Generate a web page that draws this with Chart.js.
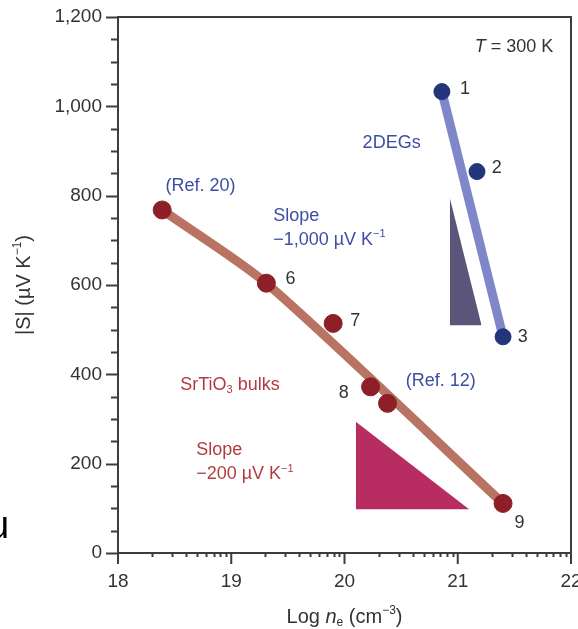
<!DOCTYPE html>
<html>
<head>
<meta charset="utf-8">
<script src="https://cdn.jsdelivr.net/npm/chart.js@4.4.1/dist/chart.umd.min.js"></script>
<style>
  html, body { margin: 0; padding: 0; background: #fff; }
  #wrap { width: 578px; height: 629px; }
</style>
</head>
<body>
<div id="wrap"><canvas id="seebeck" width="578" height="629"></canvas></div>
<script>
// SrTiO3 bulk samples (log ne, |S|)
const bulkX = [18.39, 19.31, 19.90, 20.23, 20.38, 21.40];
const bulkS = [768, 604, 514, 372, 335, 111];
// guide line through the bulk data
const bulkFitX = [18.39, 19.31, 21.40];
const bulkFitS = [768, 604, 111];
// 2DEG samples
const degX = [20.86, 21.17, 21.40];
const degS = [1033, 854, 484];
const degFitX = [20.86, 21.40];
const degFitS = [1033, 484];
// slope triangles: [top-left, bottom-right]
const triDegX = [20.93, 21.21];
const triDegS = [795, 510];
const triBulkX = [20.10, 21.10];
const triBulkS = [294, 98];
// axis ticks
const xTicks = [18, 19, 20, 21, 22];
const yTicks = [0, 200, 400, 600, 800, 1000, 1200];

const FONT = '"Liberation Sans", Arial, sans-serif';
const BLUE_TXT = '#3c4ea4';
const RED_TXT = '#b23b40';
const DARK = '#333333';

// text notes placed in data units (left edge, vertical middle)
const notes = [
  { x: 21.15, y: 1133, c: DARK, parts: [['T', 'i'], [' = 300 K', '']] },
  { x: 21.02, y: 1039, c: DARK, parts: [['1', '']] },
  { x: 21.30, y: 862, c: DARK, parts: [['2', '']] },
  { x: 21.53, y: 484, c: DARK, parts: [['3', '']] },
  { x: 20.16, y: 918, c: BLUE_TXT, parts: [['2DEGs', '']] },
  { x: 18.42, y: 822, c: BLUE_TXT, parts: [['(Ref. 20)', '']] },
  { x: 19.37, y: 755, c: BLUE_TXT, parts: [['Slope', '']] },
  { x: 19.37, y: 701, c: BLUE_TXT, parts: [['\u22121,000 \u00b5V K', ''], ['\u22121', 'sup']] },
  { x: 19.48, y: 613, c: DARK, parts: [['6', '']] },
  { x: 20.05, y: 520, c: DARK, parts: [['7', '']] },
  { x: 18.55, y: 376, c: RED_TXT, parts: [['SrTiO', ''], ['3', 'sub'], [' bulks', '']] },
  { x: 19.95, y: 358, c: DARK, parts: [['8', '']] },
  { x: 20.54, y: 384, c: BLUE_TXT, parts: [['(Ref. 12)', '']] },
  { x: 18.69, y: 230, c: RED_TXT, parts: [['Slope', '']] },
  { x: 18.69, y: 176, c: RED_TXT, parts: [['\u2212200 \u00b5V K', ''], ['\u22121', 'sup']] },
  { x: 21.50, y: 67, c: DARK, parts: [['9', '']] }
];

function pts(xs, ys) {
  return xs.map(function(x, i) { return { x: x, y: ys[i] }; });
}

function fontFor(p, size) {
  var small = p[1] === 'sub' || p[1] === 'sup';
  var s = small ? Math.round(size * 0.62) : size;
  return (p[1] === 'i' ? 'italic ' : '') + s + 'px ' + FONT;
}

function drawRich(ctx, parts, x, y, size, color, align) {
  ctx.fillStyle = color;
  ctx.textBaseline = 'middle';
  ctx.textAlign = 'left';
  var widths = parts.map(function(p) {
    ctx.font = fontFor(p, size);
    return ctx.measureText(p[0]).width;
  });
  var total = widths.reduce(function(a, b) { return a + b; }, 0);
  var cx = align === 'center' ? x - total / 2 : x;
  parts.forEach(function(p, i) {
    ctx.font = fontFor(p, size);
    var dy = p[1] === 'sub' ? size * 0.3 : (p[1] === 'sup' ? -size * 0.32 : 0);
    ctx.fillText(p[0], cx, y + dy);
    cx += widths[i];
  });
}

const decor = {
  id: 'decor',
  afterDraw: function(chart) {
    var ctx = chart.ctx;
    var a = chart.chartArea;
    var xs = chart.scales.x, ys = chart.scales.y;
    ctx.save();
    // frame
    ctx.strokeStyle = '#3d3d3d';
    ctx.lineWidth = 2;
    ctx.strokeRect(a.left, a.top, a.right - a.left, a.bottom - a.top);
    // y ticks: majors every 200, minors every 50
    ctx.beginPath();
    for (var v = 0; v <= 1200; v += 50) {
      var py = Math.round(ys.getPixelForValue(v)) + 0.5;
      var len = v % 200 === 0 ? 12 : 7;
      ctx.moveTo(a.left, py);
      ctx.lineTo(a.left - len, py);
    }
    // x ticks: majors at decades, minors at log positions
    for (var d = 18; d <= 22; d++) {
      var px = xs.getPixelForValue(d);
      ctx.moveTo(px, a.bottom);
      ctx.lineTo(px, a.bottom + 11);
      if (d < 22) {
        for (var k = 2; k <= 9; k++) {
          var mx = Math.round(xs.getPixelForValue(d + Math.log10(k))) + 0.5;
          ctx.moveTo(mx, a.bottom);
          ctx.lineTo(mx, a.bottom + 4);
        }
      }
    }
    ctx.stroke();

    // notes
    notes.forEach(function(n) {
      drawRich(ctx, n.parts, xs.getPixelForValue(n.x), ys.getPixelForValue(n.y), 18, n.c, 'left');
    });

    // axis titles
    drawRich(ctx, [['Log ', ''], ['n', 'i'], ['e', 'sub'], [' (cm', ''], ['\u22123', 'sup'], [')', '']],
      (a.left + a.right) / 2, 617, 20, DARK, 'center');
    ctx.save();
    ctx.translate(24, (a.top + a.bottom) / 2);
    ctx.rotate(-Math.PI / 2);
    drawRich(ctx, [['|S| (\u00b5V K', ''], ['\u22121', 'sup'], [')', '']], 0, 0, 20, DARK, 'center');
    ctx.restore();

    // stray glyph at the left edge of the original figure
    ctx.fillStyle = '#000';
    ctx.font = '38px ' + FONT;
    ctx.textBaseline = 'alphabetic';
    ctx.fillText('u', -12, 538);
    ctx.restore();
  }
};

new Chart(document.getElementById('seebeck').getContext('2d'), {
  type: 'line',
  data: {
    datasets: [
      {
        data: pts(triBulkX, triBulkS),
        borderWidth: 0,
        pointRadius: 0,
        backgroundColor: '#b72d61',
        fill: { value: triBulkS[1] },
        order: 9
      },
      {
        data: pts(triDegX, triDegS),
        borderWidth: 0,
        pointRadius: 0,
        backgroundColor: '#5a5679',
        fill: { value: triDegS[1] },
        order: 9
      },
      {
        data: pts(bulkFitX, bulkFitS),
        borderColor: '#b87363',
        borderWidth: 9,
        pointRadius: 0,
        tension: 0.25,
        fill: false,
        order: 5
      },
      {
        data: pts(degFitX, degFitS),
        borderColor: '#7f87c8',
        borderWidth: 9,
        pointRadius: 0,
        fill: false,
        order: 5
      },
      {
        data: pts(bulkX, bulkS),
        showLine: false,
        pointRadius: 9,
        pointBackgroundColor: '#8e1f26',
        pointBorderColor: '#8e1f26',
        pointBorderWidth: 1,
        order: 1
      },
      {
        data: pts(degX, degS),
        showLine: false,
        pointRadius: 8,
        pointBackgroundColor: '#23357a',
        pointBorderColor: '#23357a',
        pointBorderWidth: 1,
        order: 1
      }
    ]
  },
  options: {
    responsive: false,
    animation: false,
    devicePixelRatio: 1,
    layout: { autoPadding: false, padding: { left: 0, right: 7, top: 17, bottom: 0 } },
    plugins: {
      legend: { display: false },
      tooltip: { enabled: false }
    },
    scales: {
      x: {
        type: 'linear',
        min: 18,
        max: 22,
        afterBuildTicks: function(s) { s.ticks = xTicks.map(function(v) { return { value: v }; }); },
        ticks: { color: DARK, font: { family: FONT, size: 19 }, padding: 17 },
        grid: { display: false, drawTicks: false },
        border: { display: false },
        afterFit: function(s) { s.height = 76; s.paddingLeft = 0; s.paddingRight = 0; }
      },
      y: {
        type: 'linear',
        min: 0,
        max: 1200,
        afterBuildTicks: function(s) { s.ticks = yTicks.map(function(v) { return { value: v }; }); },
        ticks: {
          color: DARK,
          font: { family: FONT, size: 19 },
          padding: 16,
          callback: function(v) { return v.toLocaleString('en-US'); }
        },
        grid: { display: false, drawTicks: false },
        border: { display: false },
        afterFit: function(s) { s.width = 118; s.paddingTop = 0; s.paddingBottom = 0; }
      }
    }
  },
  plugins: [decor]
});
</script>
</body>
</html>
